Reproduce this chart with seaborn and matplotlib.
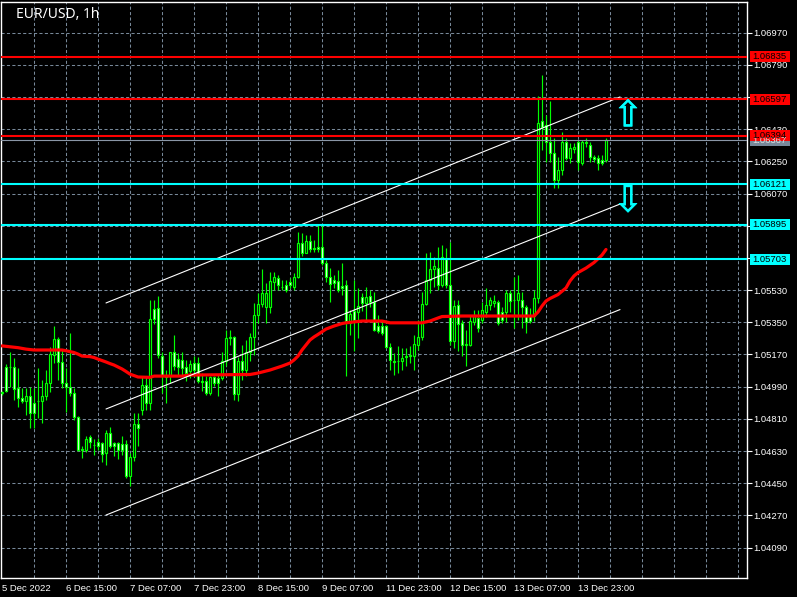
import numpy as np
import pandas as pd
import matplotlib
matplotlib.use("Agg")
import matplotlib.pyplot as plt
import matplotlib.transforms as mtransforms
import matplotlib.patheffects as pe
from matplotlib.patches import Rectangle
import seaborn as sns

# ---------------- data (EUR/USD, 1h) ----------------
opens = [
    1.04953, 1.05102, 1.05102, 1.05102, 1.04981, 1.04925, 1.04907, 1.04940, 1.04901, 1.04907,
    1.04907, 1.04940, 1.05013, 1.05167, 1.05255, 1.05130, 1.05009, 1.04990, 1.04953, 1.04823,
    1.04637, 1.04637, 1.04706, 1.04661, 1.04678, 1.04674, 1.04618, 1.04730, 1.04674, 1.04674,
    1.04669, 1.04669, 1.04492, 1.04596, 1.04782, 1.04861, 1.05000, 1.04898, 1.05422, 1.05428,
    1.05162, 1.05047, 1.05047, 1.05181, 1.05144, 1.05140, 1.05099, 1.05075, 1.05121, 1.05121,
    1.05019, 1.05019, 1.04957, 1.05043, 1.05037, 1.05037, 1.05131, 1.05261, 1.05266, 1.04950,
    1.05136, 1.05084, 1.05186, 1.05270, 1.05391, 1.05451, 1.05438, 1.05438, 1.05577, 1.05596,
    1.05549, 1.05559, 1.05577, 1.05549, 1.05605, 1.05795, 1.05739, 1.05806, 1.05763, 1.05769,
    1.05769, 1.05679, 1.05605, 1.05586, 1.05581, 1.05553, 1.05559, 1.05345, 1.05411, 1.05405,
    1.05490, 1.05457, 1.05498, 1.05466, 1.05331, 1.05331, 1.05327, 1.05211, 1.05132, 1.05132,
    1.05132, 1.05159, 1.05163, 1.05159, 1.05224, 1.05267, 1.05453, 1.05587, 1.05647, 1.05656,
    1.05559, 1.05703, 1.05559, 1.05243, 1.05448, 1.05345, 1.05224, 1.05224, 1.05354, 1.05373,
    1.05363, 1.05410, 1.05447, 1.05460, 1.05465, 1.05410, 1.05410, 1.05512, 1.05475, 1.05475,
    1.05475, 1.05438, 1.05386, 1.05383, 1.05486, 1.06475, 1.06453, 1.06358, 1.06296, 1.06146,
    1.06201, 1.06358, 1.06268, 1.06319, 1.06358, 1.06241, 1.06352, 1.06341, 1.06274, 1.06268,
    1.06257, 1.06257,
]
highs = [
    1.04968, 1.05117, 1.05186, 1.05148, 1.05093, 1.04981, 1.04981, 1.04990, 1.04981, 1.05093,
    1.05028, 1.05083, 1.05214, 1.05329, 1.05266, 1.05199, 1.05093, 1.05288, 1.04981, 1.04827,
    1.04656, 1.04715, 1.04721, 1.04697, 1.04702, 1.04683, 1.04749, 1.04767, 1.04683, 1.04683,
    1.04715, 1.04693, 1.04618, 1.04842, 1.04842, 1.05047, 1.05047, 1.05475, 1.05475, 1.05497,
    1.05186, 1.05084, 1.05186, 1.05279, 1.05177, 1.05186, 1.05140, 1.05140, 1.05162, 1.05155,
    1.05065, 1.05047, 1.05047, 1.05050, 1.05056, 1.05186, 1.05307, 1.05307, 1.05274, 1.05155,
    1.05224, 1.05251, 1.05289, 1.05456, 1.05512, 1.05646, 1.05568, 1.05633, 1.05633, 1.05614,
    1.05586, 1.05586, 1.05600, 1.05624, 1.05856, 1.05851, 1.05838, 1.05838, 1.05810, 1.05893,
    1.05893, 1.05698, 1.05652, 1.05614, 1.05642, 1.05679, 1.05587, 1.05420, 1.05587, 1.05541,
    1.05513, 1.05550, 1.05531, 1.05522, 1.05392, 1.05364, 1.05336, 1.05234, 1.05178, 1.05215,
    1.05206, 1.05206, 1.05215, 1.05280, 1.05364, 1.05517, 1.05736, 1.05745, 1.05717, 1.05773,
    1.05782, 1.05764, 1.05801, 1.05476, 1.05476, 1.05364, 1.05308, 1.05383, 1.05419, 1.05419,
    1.05465, 1.05540, 1.05493, 1.05503, 1.05475, 1.05438, 1.05531, 1.05531, 1.05605, 1.05614,
    1.05521, 1.05447, 1.05429, 1.05531, 1.06615, 1.06733, 1.06509, 1.06587, 1.06380, 1.06274,
    1.06414, 1.06380, 1.06352, 1.06352, 1.06369, 1.06369, 1.06380, 1.06358, 1.06285, 1.06285,
    1.06285, 1.06380,
]
lows = [
    1.04944, 1.04962, 1.04990, 1.04916, 1.04879, 1.04897, 1.04832, 1.04758, 1.04758, 1.04814,
    1.04786, 1.04916, 1.04962, 1.05121, 1.05028, 1.04981, 1.04851, 1.04935, 1.04801, 1.04628,
    1.04590, 1.04622, 1.04646, 1.04609, 1.04637, 1.04566, 1.04550, 1.04646, 1.04600, 1.04585,
    1.04609, 1.04479, 1.04432, 1.04572, 1.04656, 1.04830, 1.04861, 1.04861, 1.05340, 1.05149,
    1.04954, 1.04898, 1.05010, 1.05084, 1.05047, 1.05056, 1.05019, 1.05037, 1.05043, 1.05010,
    1.04963, 1.04944, 1.04944, 1.04991, 1.04935, 1.05028, 1.05103, 1.05224, 1.04917, 1.04907,
    1.05028, 1.05047, 1.05131, 1.05168, 1.05345, 1.05438, 1.05345, 1.05400, 1.05531, 1.05531,
    1.05531, 1.05521, 1.05540, 1.05531, 1.05596, 1.05720, 1.05735, 1.05745, 1.05745, 1.05745,
    1.05670, 1.05577, 1.05465, 1.05540, 1.05521, 1.05503, 1.05048, 1.05280, 1.05187, 1.05262,
    1.05411, 1.05364, 1.05438, 1.05299, 1.05290, 1.05280, 1.05206, 1.05085, 1.05057, 1.05066,
    1.05085, 1.05104, 1.05122, 1.05085, 1.05197, 1.05252, 1.05448, 1.05513, 1.05550, 1.05531,
    1.05550, 1.05541, 1.05225, 1.05206, 1.05187, 1.05159, 1.05104, 1.05215, 1.05335, 1.05298,
    1.05345, 1.05382, 1.05419, 1.05438, 1.05335, 1.05345, 1.05354, 1.05410, 1.05317, 1.05363,
    1.05317, 1.05289, 1.05345, 1.05355, 1.05460, 1.06313, 1.06246, 1.06246, 1.06101, 1.06101,
    1.06173, 1.06257, 1.06241, 1.06296, 1.06201, 1.06230, 1.06330, 1.06246, 1.06246, 1.06201,
    1.06230, 1.06246,
]
closes = [
    1.04962, 1.04968, 1.05098, 1.04976, 1.04925, 1.04910, 1.04935, 1.04842, 1.04842, 1.04910,
    1.04940, 1.05013, 1.05171, 1.05255, 1.05130, 1.05009, 1.04987, 1.04953, 1.04823, 1.04637,
    1.04640, 1.04697, 1.04678, 1.04663, 1.04656, 1.04613, 1.04730, 1.04656, 1.04656, 1.04633,
    1.04637, 1.04492, 1.04596, 1.04782, 1.04758, 1.05000, 1.04898, 1.05367, 1.05367, 1.05168,
    1.05047, 1.05043, 1.05181, 1.05103, 1.05099, 1.05095, 1.05065, 1.05117, 1.05084, 1.05019,
    1.05016, 1.04957, 1.05043, 1.05013, 1.05010, 1.05131, 1.05261, 1.05270, 1.04950, 1.05136,
    1.05084, 1.05186, 1.05270, 1.05391, 1.05452, 1.05516, 1.05516, 1.05581, 1.05605, 1.05559,
    1.05547, 1.05531, 1.05559, 1.05605, 1.05791, 1.05739, 1.05806, 1.05758, 1.05760, 1.05758,
    1.05679, 1.05605, 1.05564, 1.05568, 1.05531, 1.05540, 1.05355, 1.05396, 1.05364, 1.05442,
    1.05457, 1.05494, 1.05466, 1.05308, 1.05299, 1.05290, 1.05211, 1.05141, 1.05130, 1.05134,
    1.05150, 1.05157, 1.05165, 1.05230, 1.05267, 1.05453, 1.05587, 1.05647, 1.05662, 1.05559,
    1.05717, 1.05559, 1.05243, 1.05442, 1.05342, 1.05224, 1.05226, 1.05355, 1.05386, 1.05317,
    1.05419, 1.05447, 1.05475, 1.05471, 1.05345, 1.05363, 1.05516, 1.05471, 1.05473, 1.05516,
    1.05438, 1.05354, 1.05355, 1.05485, 1.06464, 1.06442, 1.06358, 1.06296, 1.06146, 1.06201,
    1.06358, 1.06268, 1.06324, 1.06330, 1.06246, 1.06358, 1.06358, 1.06274, 1.06263, 1.06241,
    1.06241, 1.06367,
]

# moving average (red), read at selected bars
ma_bars = [0, 2, 4, 6, 8, 15, 16, 18, 19, 20, 22, 23, 24, 25, 26, 27, 28, 29, 30, 31,
           32, 33, 34, 37, 38, 45, 47, 57, 62, 64, 67, 70, 72, 73, 74, 75, 76, 77, 78, 79,
           81, 83, 85, 86, 90, 95, 97, 105, 107, 109, 110, 115, 133, 134, 135, 136, 137,
           139, 141, 142, 143, 144, 146, 148, 150, 151]
ma_values = [1.05218, 1.05213, 1.05208, 1.05200, 1.05195, 1.05195, 1.05191, 1.05181, 1.05172, 1.05161,
             1.05158, 1.05153, 1.05144, 1.05136, 1.05128, 1.05119, 1.05111, 1.05100, 1.05089, 1.05075,
             1.05060, 1.05052, 1.05044, 1.05042, 1.05049, 1.05049, 1.05055, 1.05057, 1.05058, 1.05066,
             1.05083, 1.05105, 1.05122, 1.05139, 1.05161, 1.05195, 1.05223, 1.05251, 1.05268, 1.05282,
             1.05312, 1.05329, 1.05343, 1.05347, 1.05357, 1.05357, 1.05347, 1.05347, 1.05357, 1.05374,
             1.05382, 1.05385, 1.05385, 1.05407, 1.05441, 1.05469, 1.05483, 1.05505, 1.05542, 1.05581,
             1.05609, 1.05628, 1.05653, 1.05684, 1.05726, 1.05757]

# equidistant channel (white)
chan_bars = [26, 154.5]
chan_upper = [1.05458, 1.06610]
chan_middle = [1.04865, 1.06011]
chan_lower = [1.04272, 1.05421]

red_levels = [1.06835, 1.06597, 1.06394]
cyan_levels = [1.06121, 1.05895, 1.05703]
bid_level = 1.06367

up_arrow = (156.5, 1.06597)
down_arrow = (156.5, 1.06121)

price_ticks = [1.06970, 1.06790, 1.06610, 1.06430, 1.06250, 1.06070, 1.05890, 1.05710,
               1.05530, 1.05350, 1.05170, 1.04990, 1.04810, 1.04630, 1.04450, 1.04270, 1.04090]
hidden_ticks = [1.06610, 1.05890, 1.05710]   # covered by the level labels
time_tick_bars = [0, 16, 32, 48, 64, 80, 96, 112, 128, 144]
time_labels = ["5 Dec 2022", "6 Dec 15:00", "7 Dec 07:00", "7 Dec 23:00", "8 Dec 15:00",
               "9 Dec 07:00", "11 Dec 23:00", "12 Dec 15:00", "13 Dec 07:00", "13 Dec 23:00"]
title = "EUR/USD, 1h"

# ---------------- style ----------------
sns.set_theme(style="dark", rc={"axes.facecolor": "black", "figure.facecolor": "black"})
plt.rcParams['font.family'] = ['Liberation Sans', 'DejaVu Sans']

LIME = '#00ff00'
GRID = '#778899'
FS = 6.8

W, H = 797, 597
fig = plt.figure(figsize=(W / 100, H / 100), dpi=100)
ax = fig.add_axes([1 / W, 19 / H, 746 / W, 576 / H])
ax.set_facecolor('black')
ax.grid(False)

ax.set_xlim(-0.25, 186.25)
ax.set_ylim(1.03920, 1.07141)

# grid
for gx in range(8, 186, 8):
    ax.axvline(gx, color=GRID, lw=0.75, ls=(0, (3, 2.2)), zorder=1)
for p in price_ticks:
    ax.axhline(p, color=GRID, lw=0.75, ls=(0, (3, 2.2)), zorder=1)

# candles
df = pd.DataFrame({"bar": np.arange(len(opens)), "open": opens, "high": highs,
                   "low": lows, "close": closes})
bull = df["close"] >= df["open"]
ax.vlines(df["bar"], df["low"], df["high"], color=LIME, lw=0.85, zorder=3)
body_lo = np.minimum(df["open"], df["close"])
body_h = np.maximum(np.abs(df["close"] - df["open"]), 0.000002)
ax.bar(df["bar"], body_h, bottom=body_lo, width=0.5,
       color=np.where(bull, 'black', 'white'), edgecolor=LIME, linewidth=0.85, zorder=4)

# moving average
sns.lineplot(x=ma_bars, y=ma_values, color='#ff0000', lw=2.3, ax=ax, zorder=5)

# channel
for ch in (chan_upper, chan_middle, chan_lower):
    ax.plot(chan_bars, ch, color='white', lw=0.8, zorder=6)

# horizontal levels
ax.axhline(bid_level, color='#8a96a6', lw=0.8, zorder=6)
for p in red_levels:
    ax.axhline(p, color='#ff0000', lw=1.5, zorder=7)
for p in cyan_levels:
    ax.axhline(p, color='#00ffff', lw=1.5, zorder=7)

# arrows (hollow)
stroke = [pe.withStroke(linewidth=0.5, foreground='#00ffff')]
ax.text(up_arrow[0], up_arrow[1], '\u21e7', ha='center', va='top', fontsize=26,
        color='#00ffff', family='DejaVu Sans', zorder=8, path_effects=stroke)
ax.text(down_arrow[0], down_arrow[1], '\u21e9', ha='center', va='top', fontsize=26,
        color='#00ffff', family='DejaVu Sans', zorder=8, path_effects=stroke)

# axes, ticks
for s in ax.spines.values():
    s.set_color('white')
    s.set_linewidth(1.0)
ax.yaxis.tick_right()
ax.set_yticks(price_ticks)
ax.set_yticklabels(["" if p in hidden_ticks else f"{p:.5f}" for p in price_ticks])
ax.tick_params(axis='y', colors='white', length=3.5, width=0.8, pad=1, labelsize=FS,
               direction='out', left=False, right=True)
ax.set_xticks(time_tick_bars)
ax.set_xticklabels(time_labels, ha='left')
ax.tick_params(axis='x', colors='white', length=3.5, width=0.8, pad=1, labelsize=FS,
               direction='out')
ax.set_xlabel('')
ax.set_ylabel('')

# price labels on the right axis
trans = mtransforms.blended_transform_factory(ax.transAxes, ax.transData)
px = 1 / 746.0
hdata = 11 * (1.07141 - 1.03920) / 576
def price_label(p, bg, fg):
    ax.add_patch(Rectangle((1 + 3 * px, p - hdata / 2), 40 * px, hdata, transform=trans,
                           facecolor=bg, edgecolor='none', clip_on=False, zorder=20))
    ax.text(1 + 5 * px, p, f"{p:.5f}", transform=trans, ha='left', va='center',
            fontsize=FS, color=fg, clip_on=False, zorder=21)

price_label(bid_level, '#778899', '#dddddd')
for p in red_levels:
    price_label(p, '#ff0000', 'black')
for p in cyan_levels:
    price_label(p, '#00ffff', 'black')

# title
ax.text(15 * px, 1 - 5.0 / 576, title, transform=ax.transAxes, ha='left', va='top',
        fontsize=10, color='white', family=['Noto Sans', 'DejaVu Sans'], zorder=30)

fig.savefig('out.png', dpi=100, facecolor='black')
